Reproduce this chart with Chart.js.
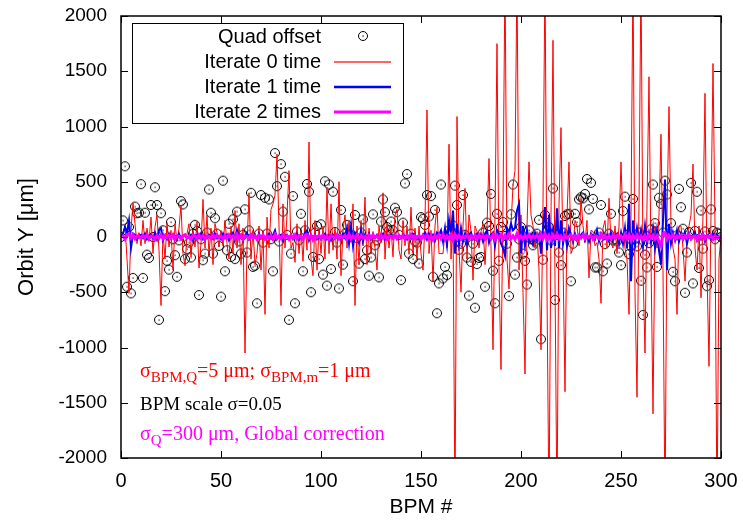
<!DOCTYPE html>
<html>
<head>
<meta charset="utf-8">
<script src="https://cdn.jsdelivr.net/npm/chart.js@4/dist/chart.umd.min.js"></script>
<style>
  html, body { margin: 0; padding: 0; background: #fff; }
  #wrap { width: 743px; height: 524px; }
</style>
</head>
<body>
<div id="wrap"><canvas id="orbitChart" width="743" height="524"></canvas></div>
<script>
// ------------------------------------------------------------
// Orbit Y vs BPM #  (gnuplot-style look)
// ------------------------------------------------------------

const seriesNames = ['Quad offset', 'Iterate 0 time', 'Iterate 1 time', 'Iterate 2 times'];
const xTicks = [0, 50, 100, 150, 200, 250, 300];
const yTicks = [-2000, -1500, -1000, -500, 0, 500, 1000, 1500, 2000];

// BPM index 0..300
const bpm = Array.from({ length: 301 }, (_, i) => i);

const quadOffset = [
  0, 150, 640, -450, 90, -510, -370, 275, 215, 220,
  478, -370, 220, -160, -190, 290, 0, 450, 290, -750,
  215, 60, -490, -215, -295, 135, -20, -165, -360, -30,
  325, 295, -200, -110, -50, -185, 30, 110, 55, -525,
  -20, -210, -150, 40, 430, 220, -150, 170, 30, -80,
  -540, 510, -310, -120, 120, -180, 160, -200, 230, -40,
  -150, 20, 250, -140, 60, 400, -270, -260, -600, 30,
  380, -50, 355, 30, 340, -20, -310, 760, 460, -40,
  660, 230, 545, 20, -750, -150, 370, -600, 50, -30,
  210, -310, 60, 480, 410, -500, -180, 40, 100, -200,
  115, -340, 505, -440, 475, -290, 410, 45, -50, -465,
  245, -250, 30, 110, 25, 20, -400, 200, -10, -240,
  40, 160, -200, -120, -350, -185, 205, -75, -30, -365,
  140, 340, 225, 90, 60, 140, 60, 265, 225, 20,
  -390, 130, 485, 570, -150, 30, -200, -40, -50, -240,
  180, 165, 110, 380, 185, 370, -360, 245, -690, -420,
  475, -375, -270, -345, 60, 45, 105, 465, 290, -115,
  -60, 380, 20, -185, -530, -225, -60, -640, -245, -190,
  -180, 40, -450, 130, 100, 390, -305, -600, 210, -215,
  90, 135, 10, -60, -535, 205, 475, -340, -185, -20,
  90, -150, -215, -430, 60, -20, -75, -40, 30, 155,
  -925, -205, 200, 60, 90, -30, 440, -570, 20, -140,
  -255, 40, 190, 205, 210, -400, -60, 210, 135, 340,
  360, 350, 390, 525, 250, 490, 345, -275, -275, 40,
  290, -310, -65, -240, 30, 210, -30, -20, -40, -140,
  -255, 235, 365, 20, -155, -85, 345, -20, -85, 40,
  -395, -705, -160, -275, -55, 70, 475, 125, -270, 355,
  300, 40, 510, 385, 30, 125, -315, -400, 15, 435,
  270, 75, -505, -140, 45, 490, -420, 55, 410, -280,
  240, -105, 50, -445, -390, 250, 55, -20, 40, 30,
  0
];

const iterate0 = [
  0, 40, 100, -200, -510, 60, 310, 120, -60, 40,
  -80, 150, -60, 80, -40, 180, -150, 90, 200, -120,
  -620, 40, -200, 130, -90, 60, -300, 120, -40, 80,
  290, -150, -260, 30, 120, -180, 60, -90, 140, -280,
  -60, 340, -100, 200, -160, 80, -250, 120, 40, -90,
  60, -80, 150, -60, -200, 100, -150, 240, -100, 120,
  -250, 80, -1050, -100, 400, -200, 60, -250, -150, 100,
  -300, 60, -700, 180, -100, 250, 300, 380, 750, 100,
  -620, 300, -100, 200, 600, -100, -50, -230, 120, -150,
  60, -220, 150, -120, 860, -200, -350, 150, -300, 80,
  -150, 100, -200, 450, -150, 300, -120, 80, -200, 500,
  -350, 60, 200, -100, 150, -50, 300, -620, 100, -250,
  150, -80, 360, -250, 80, -150, 50, -100, -300, 100,
  -50, 400, -200, 120, -100, 80, -180, 200, 250, -120,
  -200, 150, -80, 100, -150, 270, -150, 80, -200, 100,
  -150, -300, 150, 1150, -150, 60, -400, 100, 270, -150,
  -150, -150, 50, -100, 840, -200, 150, -2500, 1090, -100,
  -500, 100, 440, -200, 200, 50, -390, 100, 50, -100,
  50, 120, -250, 100, 710, -100, -1020, 200, 1750, -300,
  -1200, 300, 2400, -200, -470, 100, 470, 600, 2400, -300,
  200, -500, -1240, 100, 680, 200, 100, -100, 50, -300,
  -1020, 300, 2400, -500, -2500, 200, 1780, -400, -2500, 300,
  990, -200, -1400, 200, 680, -150, -100, 150, 100, -80,
  350, 100, -50, 150, -370, 60, 50, -80, -50, -200,
  -600, 80, 150, -100, 350, -50, -100, 100, -150, 100,
  680, 100, -100, -200, -700, 200, 2400, -500, -1450, 300,
  2400, -300, -1050, 300, 1450, -200, -1600, 100, -100, 200,
  930, -300, -2500, 200, 1180, 100, -100, -200, -700, 100,
  100, -100, -400, 0, 100, 200, 660, -100, -300, 100,
  -550, 200, 1300, -300, -1170, 200, 1570, 100, -2500, -200,
  0
];

const iterate1 = [
  0, 30, 90, 40, 150, -100, 30, 20, -20, 10,
  20, -10, 30, -20, 10, 20, -10, 40, -20, 60,
  80, -30, 10, -20, 30, -10, 20, 10, -20, 30,
  -20, 10, 20, -10, 0, 20, -30, 10, 20, -10,
  30, -20, 10, -10, 20, 0, -20, 30, -10, 10,
  -20, 30, -10, 20, -30, 10, 40, -20, 60, -10,
  20, -30, 10, 40, -20, 10, -10, 20, -20, 30,
  -10, 20, -20, 10, 30, -10, 20, 60, -20, 10,
  20, -30, 10, 20, -10, 20, -20, 10, 30, -20,
  10, -10, 40, 60, -30, 20, -10, 20, -20, 10,
  -20, 10, 30, -20, 10, -30, 20, -10, 20, 10,
  -20, 30, -10, 80, -60, 100, -80, 40, 20, -50,
  60, -40, 20, -10, 30, -20, 10, -10, 20, -20,
  10, 30, -20, 10, -10, 20, -10, 20, -20, 10,
  -10, 20, 10, -20, 10, -10, 30, 20, -20, 10,
  -30, 20, 40, -20, 30, -10, 20, -30, 40, 20,
  60, -40, 80, -70, 150, 30, 240, -150, 120, -60,
  80, -40, 30, -60, 20, 40, -20, 10, 30, -30,
  20, -40, 30, 60, -50, 20, 40, -80, 60, 30,
  -60, -100, -170, 80, 40, 120, 60, 80, 240, 300,
  -150, 100, -80, 60, -40, 20, -60, 40, -30, 20,
  -150, 80, 270, -120, 200, -100, 60, -80, 260, -100,
  150, -60, 40, -80, 80, 20, -40, 30, -20, 10,
  20, 40, -30, 20, -40, 30, 10, -20, 60, -40,
  30, -20, 10, 20, -30, 40, -20, 10, 30, -60,
  40, -60, 80, -100, 300, -400, 150, -60, 80, -40,
  60, -80, 100, -60, 40, -50, 80, -100, 60, -120,
  -250, 150, 520, -300, 120, -60, 40, -30, 60, -40,
  30, -20, 40, -60, 30, -20, 10, 40, -30, 20,
  -20, 30, -40, 20, 10, -20, 30, -10, 20, -10,
  0
];

const iterate2 = [
  0, 10, -20, 15, 30, -10, 20, -15, 10, 5,
  -10, 15, -5, 20, -15, 10, 5, -20, 15, -10,
  20, -15, 10, -5, 15, -10, 20, -20, 10, 5,
  -15, 10, 20, -10, 5, -20, 15, 10, -15, 20,
  -10, 15, -20, 10, 5, -15, 20, -10, 15, -5,
  10, -20, 15, -10, 20, -5, 10, -15, 25, -10,
  15, -20, 10, 5, -15, 20, -10, 10, -20, 15,
  -5, 20, -15, 10, -10, 15, -20, 25, -10, 10,
  -15, 20, -5, 10, -20, 15, -10, 20, -15, 10,
  5, -20, 15, 20, -10, 15, -25, 10, -5, 15,
  -10, 20, -15, 10, -20, 15, 5, -10, 20, -15,
  10, -5, 15, -20, 25, -15, 10, -10, 20, -15,
  15, -10, 5, -20, 15, -10, 20, -5, 10, -15,
  20, -10, 15, -20, 10, 5, -15, 20, -10, 15,
  -5, 10, -20, 15, -10, 20, -15, 10, -5, 15,
  -20, 15, -10, 20, -15, 10, -25, 15, -10, 20,
  -15, 25, -20, 10, -15, 20, -30, 25, -10, 15,
  -20, 10, -5, 20, -15, 10, -10, 15, -20, 20,
  -10, 15, -20, 10, 5, -15, 20, -25, 15, -10,
  20, -20, 15, -10, 25, -15, 10, -20, 30, -15,
  10, -20, 15, -10, 20, -15, 10, -5, 15, -20,
  25, -15, 30, -20, 15, -25, 20, -10, 25, -15,
  10, -20, 15, -10, 5, 20, -15, 10, -20, 15,
  -10, 20, -15, 10, -5, 15, -20, 10, 5, -15,
  20, -10, 15, -20, 10, -15, 20, -5, 15, -10,
  10, -20, 25, -15, 20, -30, 15, -10, 20, -15,
  10, -20, 15, -25, 20, -10, 15, -20, 10, -40,
  -80, 30, 40, -20, 15, -10, 20, -15, 10, -5,
  15, -20, 10, -10, 20, -15, 5, 10, -20, 15,
  -10, 20, -15, 10, -5, 15, -20, 10, -10, 0,
  5
];

const toXY = arr => arr.map((v, i) => ({ x: bpm[i], y: v }));

// gnuplot point type: open circle with a dot in the middle
const makeDotCircle = () => {
    const c = document.createElement('canvas');
    c.width = 12; c.height = 12;
    const g = c.getContext('2d');
    g.strokeStyle = '#000';
    g.lineWidth = 1;
    g.beginPath();
    g.arc(6, 6, 4.5, 0, Math.PI * 2);
    g.stroke();
    g.fillStyle = '#000';
    g.fillRect(5.5, 5.5, 1.2, 1.2);
    return c;
};
const dotCircle = makeDotCircle();

const FONT = '"Liberation Sans", Arial, sans-serif';
const SERIF = '"Liberation Serif", "Times New Roman", serif';

// frame + inward ticks on all four sides, legend box, text labels
const gnuplotFrame = {
    id: 'gnuplotFrame',
    afterDatasetsDraw(chart) {
        const { ctx, chartArea: a, scales } = chart;
        ctx.save();
        ctx.strokeStyle = '#000';
        ctx.lineWidth = 1.5;
        ctx.strokeRect(a.left, a.top, a.right - a.left, a.bottom - a.top);

        ctx.lineWidth = 1;
        ctx.beginPath();
        const tl = 7;
        yTicks.forEach(v => {
            const y = Math.round(scales.y.getPixelForValue(v)) + 0.5;
            ctx.moveTo(a.left, y); ctx.lineTo(a.left + tl, y);
            ctx.moveTo(a.right, y); ctx.lineTo(a.right - tl, y);
        });
        xTicks.forEach(v => {
            const x = Math.round(scales.x.getPixelForValue(v)) + 0.5;
            ctx.moveTo(x, a.bottom); ctx.lineTo(x, a.bottom - tl);
            ctx.moveTo(x, a.top); ctx.lineTo(x, a.top + tl);
        });
        ctx.stroke();

        // legend
        const lx = 132, ly = 23, lw = 271, lh = 100;
        ctx.fillStyle = '#fff';
        ctx.fillRect(lx, ly, lw, lh);
        ctx.strokeStyle = '#000';
        ctx.lineWidth = 1;
        ctx.strokeRect(lx + 0.5, ly + 0.5, lw, lh);

        const rows = [36, 61, 86, 111];
        const styles = [
            null,
            { c: '#ff3030', w: 1.4 },
            { c: '#0000ff', w: 2.5 },
            { c: '#ff00ff', w: 3 }
        ];
        ctx.font = '20px ' + FONT;
        ctx.textAlign = 'right';
        ctx.textBaseline = 'middle';
        seriesNames.forEach((name, i) => {
            ctx.fillStyle = '#000';
            ctx.fillText(name, 321, rows[i] + 1);
            if (i === 0) {
                ctx.drawImage(dotCircle, 357, rows[i] - 6);
            } else {
                ctx.strokeStyle = styles[i].c;
                ctx.lineWidth = styles[i].w;
                ctx.beginPath();
                ctx.moveTo(334, rows[i] + 1);
                ctx.lineTo(391, rows[i] + 1);
                ctx.stroke();
            }
        });

        // annotations
        const rich = (parts, x, y, color, size) => {
            ctx.fillStyle = color;
            ctx.textAlign = 'left';
            ctx.textBaseline = 'alphabetic';
            parts.forEach(([t, sub]) => {
                ctx.font = (sub ? Math.round(size * 0.75) : size) + 'px ' + SERIF;
                ctx.fillText(t, x, sub ? y + 5 : y);
                x += ctx.measureText(t).width;
            });
        };
        rich([['σ'], ['BPM,Q', 1], ['=5 μm; σ'], ['BPM,m', 1], ['=1 μm']], 140, 377, '#ff0000', 20);
        rich([['BPM scale σ=0.05']], 140, 410, '#000000', 19);
        rich([['σ'], ['Q', 1], ['=300 μm, Global correction']], 140, 440, '#ff00ff', 20);
        ctx.restore();
    }
};

new Chart(document.getElementById('orbitChart'), {
    type: 'line',
    data: {
        datasets: [
            {
                label: seriesNames[0],
                data: toXY(quadOffset),
                showLine: false,
                pointStyle: dotCircle,
                pointRadius: 5,
                order: 3
            },
            {
                label: seriesNames[1],
                data: toXY(iterate0),
                borderColor: '#ff0000',
                borderWidth: 1,
                pointRadius: 0,
                order: 2
            },
            {
                label: seriesNames[2],
                data: toXY(iterate1),
                borderColor: '#0000ff',
                borderWidth: 2,
                pointRadius: 0,
                order: 1
            },
            {
                label: seriesNames[3],
                data: toXY(iterate2),
                borderColor: '#ff00ff',
                borderWidth: 3,
                pointRadius: 0,
                order: 0
            }
        ]
    },
    options: {
        responsive: false,
        animation: false,
        events: [],
        layout: { padding: { left: 10, top: 16, right: 22, bottom: 0 } },
        plugins: { legend: { display: false }, tooltip: { enabled: false } },
        elements: { line: { tension: 0 } },
        scales: {
            x: {
                type: 'linear',
                min: 0, max: 300,
                grid: { display: false, drawTicks: false },
                border: { display: false },
                afterBuildTicks: s => { s.ticks = xTicks.map(v => ({ value: v })); },
                ticks: { color: '#000', font: { size: 20, family: FONT }, padding: 11, maxRotation: 0,
                         callback: v => String(v) },
                title: { display: true, text: 'BPM #', color: '#000', font: { size: 21, family: FONT }, padding: { top: 4 } },
                afterFit: s => { s.height = 66; s.paddingLeft = 0; s.paddingRight = 0; }
            },
            y: {
                min: -2000, max: 2000,
                grid: { display: false, drawTicks: false },
                border: { display: false },
                afterBuildTicks: s => { s.ticks = yTicks.map(v => ({ value: v })); },
                ticks: { color: '#000', font: { size: 19, family: FONT }, padding: 14,
                         callback: v => String(v) },
                title: { display: true, text: 'Orbit Y [μm]', color: '#000', font: { size: 22, family: FONT }, padding: { bottom: 0 } },
                afterFit: s => { s.width = 111; s.paddingTop = 0; s.paddingBottom = 0; }
            }
        }
    },
    plugins: [gnuplotFrame]
});
</script>
</body>
</html>
